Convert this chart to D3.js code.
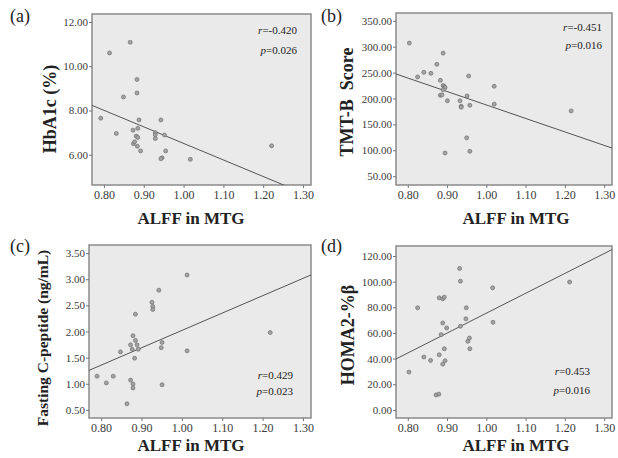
<!DOCTYPE html>
<html>
<head>
<meta charset="utf-8">
<script src="https://cdn.jsdelivr.net/npm/d3@7"></script>
<style>
  body { margin: 0; background: #fff; }
  svg { display: block; font-family: "Liberation Serif", "Times New Roman", serif; }
</style>
</head>
<body>
<svg id="chart" width="618" height="458"></svg>
<script>
// --- data ---
const xTicks = [0.80, 0.90, 1.00, 1.10, 1.20, 1.30];

const alffA = [0.792, 0.814, 0.866, 0.849, 0.831, 0.883, 0.883, 0.888, 0.885, 0.873, 0.881, 0.885, 0.874,
  0.877, 0.884, 0.892, 0.929, 0.929, 0.929, 0.943, 0.952, 0.955, 0.946, 0.943, 1.017, 1.221];
const hba1c = [7.65, 10.60, 11.08, 8.61, 6.96, 9.40, 8.79, 7.57, 7.19, 7.11, 6.84, 6.78, 6.50,
  6.58, 6.38, 6.17, 6.99, 6.90, 6.73, 7.57, 6.89, 6.17, 5.86, 5.82, 5.79, 6.40];

const alffB = [0.804, 0.825, 0.841, 0.859, 0.874, 0.890, 0.883, 0.890, 0.893, 0.895, 0.890, 0.883, 0.887,
  0.901, 0.933, 0.936, 0.936, 0.955, 0.951, 0.958, 0.950, 0.958, 0.895, 1.020, 1.020, 1.216];
const tmtb = [307, 241.5, 250.4, 248.5, 266, 287.5, 235, 225, 223, 221, 217, 206, 207,
  195.6, 195.6, 185, 183, 243.4, 205, 187, 124, 98, 94.7, 223.6, 189, 176];

const alffC = [0.790, 0.813, 0.830, 0.848, 0.864, 0.879, 0.873, 0.877, 0.873, 0.879, 0.879, 0.885, 0.885,
  0.889, 0.892, 0.883, 0.926, 0.928, 0.928, 0.943, 0.949, 0.951, 0.951, 1.013, 1.013, 1.219];
const cpeptide = [1.145, 1.016, 1.145, 1.61, 0.616, 1.92, 1.745, 1.66, 1.07, 0.996, 0.92, 2.33, 1.83,
  1.745, 1.66, 1.49, 2.56, 2.48, 2.42, 2.79, 1.69, 1.79, 0.98, 3.08, 1.63, 1.98];

const alffD = [0.803, 0.825, 0.841, 0.858, 0.872, 0.879, 0.880, 0.889, 0.893, 0.889, 0.885, 0.899, 0.893,
  0.880, 0.889, 0.895, 0.932, 0.934, 0.934, 0.949, 0.948, 0.953, 0.957, 0.958, 1.016, 1.017, 1.212];
const homa = [29.5, 79.6, 41.2, 38.6, 11.7, 12.3, 87.4, 86.6, 87.9, 67.8, 58.7, 63.9, 47.7,
  43, 35.7, 38.3, 110.3, 100.4, 65.2, 79.6, 71, 53.5, 56, 47.7, 95.2, 68.3, 99.7];

const yTicksA = [6, 8, 10, 12];
const yTicksB = [50, 100, 150, 200, 250, 300, 350];
const yTicksC = [0.5, 1.0, 1.5, 2.0, 2.5, 3.0, 3.5];
const yTicksD = [0, 20, 40, 60, 80, 100, 120];

// fitted lines: [intercept, slope]
const fitA = [13.99, -7.48];
const fitB = [447.5, -260];
const fitC = [-1.30, 3.32];
const fitD = [-79.7, 155.1];

const rValues = ["-0.420", "-0.451", "0.429", "0.453"];
const pValues = ["0.026", "0.016", "0.023", "0.016"];
const tags = ["(a)", "(b)", "(c)", "(d)"];
const yTitles = ["HbA1c (%)", "TMT-B  Score", "Fasting C-peptide (ng/mL)", "HOMA2-%\u03B2"];
const xTitle = "ALFF in MTG";

// --- layout ---
const panels = [
  { x: alffA, y: hba1c, ticks: yTicksA, fit: fitA, yDom: [4.63, 12.36],
    box: [92, 14, 311, 185], tag: [10, 22], yt: [56, 109, 18], xt: [191, 224], st: [297, 34, 54] },
  { x: alffB, y: tmtb, ticks: yTicksB, fit: fitB, yDom: [33, 365],
    box: [396, 13, 612, 185], tag: [321, 22], yt: [353, 102, 18], xt: [516, 224], st: [602, 31, 49] },
  { x: alffC, y: cpeptide, ticks: yTicksC, fit: fitC, yDom: [0.345, 3.655],
    box: [89, 245, 311, 418], tag: [10, 252], yt: [48, 338, 15.5], xt: [191, 451], st: [293, 379, 395] },
  { x: alffD, y: homa, ticks: yTicksD, fit: fitD, yDom: [-6.3, 127.8],
    box: [396, 246, 612, 418], tag: [321, 252], yt: [354, 335, 18], xt: [516, 451], st: [590, 375, 394] }
];

const svg = d3.select("#chart");
const fmt = d3.format(".2f");
const xDom = [0.77, 1.32];

panels.forEach((p, i) => {
  const [x0, y0, x1, y1] = p.box;
  const x = d3.scaleLinear().domain(xDom).range([x0, x1]);
  const y = d3.scaleLinear().domain(p.yDom).range([y1, y0]);
  const g = svg.append("g");

  // plot box
  g.append("rect")
    .attr("x", x0).attr("y", y0)
    .attr("width", x1 - x0).attr("height", y1 - y0)
    .attr("fill", "#eaeaea")
    .attr("stroke", "#8a8a8a")
    .attr("stroke-width", 1.5);

  // axes
  const xa = g.append("g")
    .attr("transform", `translate(0,${y1})`)
    .call(d3.axisBottom(x).tickValues(xTicks).tickFormat(fmt).tickSize(3).tickPadding(2));
  const ya = g.append("g")
    .attr("transform", `translate(${x0},0)`)
    .call(d3.axisLeft(y).tickValues(p.ticks).tickFormat(fmt).tickSize(3).tickPadding(1));
  [xa, ya].forEach(a => {
    a.attr("font-family", null);
    a.select(".domain").remove();
    a.selectAll("line").attr("stroke", "#777");
    a.selectAll("text").attr("fill", "#3a3a3a");
  });
  xa.selectAll("text").style("font-size", "12px");
  ya.selectAll("text").style("font-size", "11px");

  // fit line, clipped to the box
  const clipId = "clip" + i;
  g.append("clipPath").attr("id", clipId)
    .append("rect")
    .attr("x", x0).attr("y", y0)
    .attr("width", x1 - x0).attr("height", y1 - y0);
  const line = d3.line().x(d => x(d)).y(d => y(p.fit[0] + p.fit[1] * d));
  g.append("path")
    .attr("d", line(xDom))
    .attr("clip-path", `url(#${clipId})`)
    .attr("fill", "none")
    .attr("stroke", "#555")
    .attr("stroke-width", 1);

  // points
  g.selectAll("circle.pt")
    .data(p.x.map((v, k) => [v, p.y[k]]))
    .join("circle")
    .attr("class", "pt")
    .attr("cx", d => x(d[0]))
    .attr("cy", d => y(d[1]))
    .attr("r", 2)
    .attr("fill", "#a3a3a3")
    .attr("stroke", "#707070")
    .attr("stroke-width", 0.7);

  // stats
  const st = g.append("g").attr("font-size", 11).attr("fill", "#222").attr("text-anchor", "end");
  const rt = st.append("text").attr("x", p.st[0]).attr("y", p.st[1]);
  rt.append("tspan").attr("font-style", "italic").text("r");
  rt.append("tspan").text("=" + rValues[i]);
  const pt = st.append("text").attr("x", p.st[0]).attr("y", p.st[2]);
  pt.append("tspan").attr("font-style", "italic").text("p");
  pt.append("tspan").text("=" + pValues[i]);

  // panel tag
  g.append("text")
    .attr("x", p.tag[0]).attr("y", p.tag[1])
    .attr("font-size", 18)
    .attr("fill", "#222")
    .text(tags[i]);

  // axis titles
  g.append("text")
    .attr("x", p.xt[0]).attr("y", p.xt[1])
    .attr("text-anchor", "middle")
    .attr("font-size", 17)
    .attr("font-weight", "bold")
    .attr("fill", "#222")
    .text(xTitle);

  g.append("text")
    .attr("transform", `translate(${p.yt[0]},${p.yt[1]}) rotate(-90)`)
    .attr("text-anchor", "middle")
    .attr("font-size", p.yt[2])
    .attr("font-weight", "bold")
    .attr("fill", "#222")
    .style("white-space", "pre")
    .text(yTitles[i]);
});
</script>
</body>
</html>
